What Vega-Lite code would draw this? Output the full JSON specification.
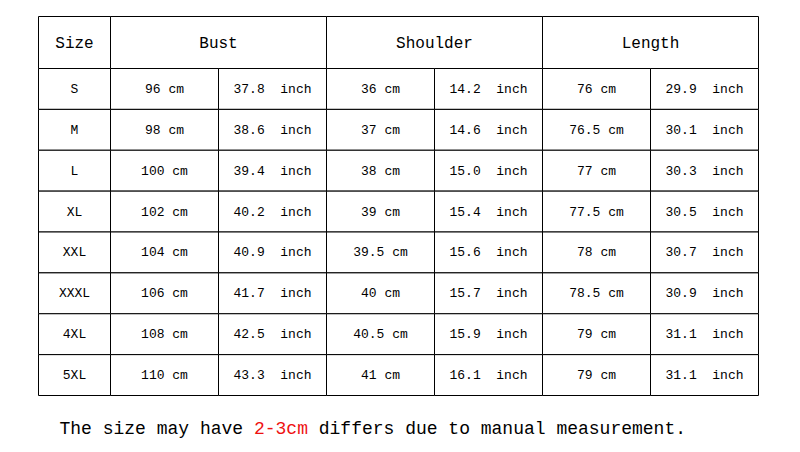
{
  "$schema": "https://vega.github.io/schema/vega-lite/v6.json",
  "padding": {"left": 37.5, "top": 15.5, "right": 0, "bottom": 0},
  "autosize": {"type": "pad"},
  "bounds": "flush",
  "spacing": 0,
  "columns": 2,
  "background": "white",
  "config": {
    "view": {"stroke": null},
    "concat": {"spacing": 0},
    "text": {"font": "Liberation Mono", "color": "black"}
  },
  "title": {
    "text": "The size may have \u00a0\u00a0\u00a0\u00a0\u00a0 differs due to manual measurement.",
    "subtitle": "\u200b\u00a0\u00a0\u00a0\u00a0\u00a0\u00a0\u00a0\u00a0\u00a0\u00a0\u00a0\u00a0\u00a0\u00a0\u00a0\u00a0\u00a0\u00a02-3cm",
    "orient": "bottom",
    "anchor": "start",
    "frame": "group",
    "font": "Liberation Mono",
    "fontSize": 18,
    "fontWeight": "normal",
    "color": "black",
    "subtitleFont": "Liberation Mono",
    "subtitleFontSize": 18,
    "subtitleColor": "#ee1111",
    "subtitlePadding": -18,
    "offset": 24,
    "dx": 21
  },
  "datasets": {
    "sizes": [
      {"size": "S"}, {"size": "M"}, {"size": "L"}, {"size": "XL"},
      {"size": "XXL"}, {"size": "XXXL"}, {"size": "4XL"}, {"size": "5XL"}
    ],
    "measures": [
      {"measure": "Bust"}, {"measure": "Shoulder"}, {"measure": "Length"}
    ],
    "cells": [
      {"size": "S", "measure": "Bust", "unit": "cm", "value": 96, "label": "96 cm"},
      {"size": "S", "measure": "Bust", "unit": "inch", "value": 37.8, "label": "37.8\u00a0 inch"},
      {"size": "S", "measure": "Shoulder", "unit": "cm", "value": 36, "label": "36 cm"},
      {"size": "S", "measure": "Shoulder", "unit": "inch", "value": 14.2, "label": "14.2\u00a0 inch"},
      {"size": "S", "measure": "Length", "unit": "cm", "value": 76, "label": "76 cm"},
      {"size": "S", "measure": "Length", "unit": "inch", "value": 29.9, "label": "29.9\u00a0 inch"},
      {"size": "M", "measure": "Bust", "unit": "cm", "value": 98, "label": "98 cm"},
      {"size": "M", "measure": "Bust", "unit": "inch", "value": 38.6, "label": "38.6\u00a0 inch"},
      {"size": "M", "measure": "Shoulder", "unit": "cm", "value": 37, "label": "37 cm"},
      {"size": "M", "measure": "Shoulder", "unit": "inch", "value": 14.6, "label": "14.6\u00a0 inch"},
      {"size": "M", "measure": "Length", "unit": "cm", "value": 76.5, "label": "76.5 cm"},
      {"size": "M", "measure": "Length", "unit": "inch", "value": 30.1, "label": "30.1\u00a0 inch"},
      {"size": "L", "measure": "Bust", "unit": "cm", "value": 100, "label": "100 cm"},
      {"size": "L", "measure": "Bust", "unit": "inch", "value": 39.4, "label": "39.4\u00a0 inch"},
      {"size": "L", "measure": "Shoulder", "unit": "cm", "value": 38, "label": "38 cm"},
      {"size": "L", "measure": "Shoulder", "unit": "inch", "value": 15.0, "label": "15.0\u00a0 inch"},
      {"size": "L", "measure": "Length", "unit": "cm", "value": 77, "label": "77 cm"},
      {"size": "L", "measure": "Length", "unit": "inch", "value": 30.3, "label": "30.3\u00a0 inch"},
      {"size": "XL", "measure": "Bust", "unit": "cm", "value": 102, "label": "102 cm"},
      {"size": "XL", "measure": "Bust", "unit": "inch", "value": 40.2, "label": "40.2\u00a0 inch"},
      {"size": "XL", "measure": "Shoulder", "unit": "cm", "value": 39, "label": "39 cm"},
      {"size": "XL", "measure": "Shoulder", "unit": "inch", "value": 15.4, "label": "15.4\u00a0 inch"},
      {"size": "XL", "measure": "Length", "unit": "cm", "value": 77.5, "label": "77.5 cm"},
      {"size": "XL", "measure": "Length", "unit": "inch", "value": 30.5, "label": "30.5\u00a0 inch"},
      {"size": "XXL", "measure": "Bust", "unit": "cm", "value": 104, "label": "104 cm"},
      {"size": "XXL", "measure": "Bust", "unit": "inch", "value": 40.9, "label": "40.9\u00a0 inch"},
      {"size": "XXL", "measure": "Shoulder", "unit": "cm", "value": 39.5, "label": "39.5 cm"},
      {"size": "XXL", "measure": "Shoulder", "unit": "inch", "value": 15.6, "label": "15.6\u00a0 inch"},
      {"size": "XXL", "measure": "Length", "unit": "cm", "value": 78, "label": "78 cm"},
      {"size": "XXL", "measure": "Length", "unit": "inch", "value": 30.7, "label": "30.7\u00a0 inch"},
      {"size": "XXXL", "measure": "Bust", "unit": "cm", "value": 106, "label": "106 cm"},
      {"size": "XXXL", "measure": "Bust", "unit": "inch", "value": 41.7, "label": "41.7\u00a0 inch"},
      {"size": "XXXL", "measure": "Shoulder", "unit": "cm", "value": 40, "label": "40 cm"},
      {"size": "XXXL", "measure": "Shoulder", "unit": "inch", "value": 15.7, "label": "15.7\u00a0 inch"},
      {"size": "XXXL", "measure": "Length", "unit": "cm", "value": 78.5, "label": "78.5 cm"},
      {"size": "XXXL", "measure": "Length", "unit": "inch", "value": 30.9, "label": "30.9\u00a0 inch"},
      {"size": "4XL", "measure": "Bust", "unit": "cm", "value": 108, "label": "108 cm"},
      {"size": "4XL", "measure": "Bust", "unit": "inch", "value": 42.5, "label": "42.5\u00a0 inch"},
      {"size": "4XL", "measure": "Shoulder", "unit": "cm", "value": 40.5, "label": "40.5 cm"},
      {"size": "4XL", "measure": "Shoulder", "unit": "inch", "value": 15.9, "label": "15.9\u00a0 inch"},
      {"size": "4XL", "measure": "Length", "unit": "cm", "value": 79, "label": "79 cm"},
      {"size": "4XL", "measure": "Length", "unit": "inch", "value": 31.1, "label": "31.1\u00a0 inch"},
      {"size": "5XL", "measure": "Bust", "unit": "cm", "value": 110, "label": "110 cm"},
      {"size": "5XL", "measure": "Bust", "unit": "inch", "value": 43.3, "label": "43.3\u00a0 inch"},
      {"size": "5XL", "measure": "Shoulder", "unit": "cm", "value": 41, "label": "41 cm"},
      {"size": "5XL", "measure": "Shoulder", "unit": "inch", "value": 16.1, "label": "16.1\u00a0 inch"},
      {"size": "5XL", "measure": "Length", "unit": "cm", "value": 79, "label": "79 cm"},
      {"size": "5XL", "measure": "Length", "unit": "inch", "value": 31.1, "label": "31.1\u00a0 inch"}
    ]
  },
  "concat": [
    {
      "width": 72,
      "height": 52,
      "data": {"values": [{"header": "Size"}]},
      "layer": [
        {"mark": {"type": "rect", "fill": "white", "stroke": "black", "strokeWidth": 1}, "encoding": {}},
        {"mark": {"type": "text", "fontSize": 16}, "encoding": {"text": {"field": "header"}}}
      ]
    },
    {
      "width": 648,
      "height": 52,
      "data": {"name": "measures"},
      "encoding": {
        "x": {"field": "measure", "type": "nominal", "sort": ["Bust", "Shoulder", "Length"], "axis": null, "scale": {"paddingInner": 0, "paddingOuter": 0}}
      },
      "layer": [
        {"mark": {"type": "rect", "fill": "white", "stroke": "black", "strokeWidth": 1}},
        {"mark": {"type": "text", "fontSize": 16}, "encoding": {"text": {"field": "measure"}}}
      ]
    },
    {
      "width": 72,
      "height": 327,
      "data": {"name": "sizes"},
      "encoding": {
        "y": {"field": "size", "type": "nominal", "sort": ["S", "M", "L", "XL", "XXL", "XXXL", "4XL", "5XL"], "axis": null, "scale": {"paddingInner": 0, "paddingOuter": 0}}
      },
      "layer": [
        {"mark": {"type": "rect", "fill": "white", "stroke": "black", "strokeWidth": 1}},
        {"mark": {"type": "text", "fontSize": 13}, "encoding": {"text": {"field": "size"}}}
      ]
    },
    {
      "width": 648,
      "height": 327,
      "data": {"name": "cells"},
      "encoding": {
        "x": {"field": "measure", "type": "nominal", "sort": ["Bust", "Shoulder", "Length"], "axis": null, "scale": {"paddingInner": 0, "paddingOuter": 0}},
        "xOffset": {"field": "unit", "type": "nominal", "sort": ["cm", "inch"], "scale": {"paddingInner": 0, "paddingOuter": 0}},
        "y": {"field": "size", "type": "nominal", "sort": ["S", "M", "L", "XL", "XXL", "XXXL", "4XL", "5XL"], "axis": null, "scale": {"paddingInner": 0, "paddingOuter": 0}}
      },
      "layer": [
        {"mark": {"type": "rect", "fill": "white", "stroke": "black", "strokeWidth": 1}},
        {"mark": {"type": "text", "fontSize": 13}, "encoding": {"text": {"field": "label"}}}
      ]
    }
  ]
}
